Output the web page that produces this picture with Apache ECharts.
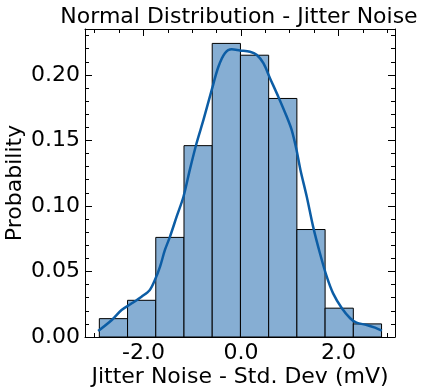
<!DOCTYPE html>
<html><head><meta charset="utf-8">
<script src="https://cdn.jsdelivr.net/npm/echarts@6/dist/echarts.min.js"></script>
<style>html,body{margin:0;padding:0;background:#fff}#c{width:426px;height:392px}</style>
</head><body><div id="c"></div>
<script>
// Histogram bin edges (mV) and probabilities
var binEdges = [-2.906, -2.327, -1.748, -1.169, -0.590, -0.011, 0.568, 1.147, 1.726, 2.305, 2.884];
var binProb = [0.014, 0.028, 0.076, 0.146, 0.224, 0.215, 0.182, 0.082, 0.022, 0.010];
// KDE curve points
var kdeX = [-2.93,-2.65,-2.45,-2.24,-2.04,-1.87,-1.76,-1.66,-1.56,-1.456,-1.32,-1.18,-1.05,-0.91,-0.77,-0.60,-0.465,-0.33,-0.19,-0.02,0.185,0.32,0.46,0.595,0.77,0.94,1.04,1.14,1.22,1.35,1.48,1.62,1.76,1.89,2.07,2.24,2.37,2.58,2.75,2.89];
var kdeY = [0.0046,0.013,0.0206,0.0257,0.0308,0.0359,0.044,0.0537,0.0664,0.0766,0.0918,0.107,0.1275,0.148,0.1656,0.1885,0.206,0.2165,0.2195,0.2186,0.2176,0.2153,0.2089,0.1975,0.183,0.168,0.158,0.1427,0.1275,0.107,0.0842,0.0639,0.046,0.0333,0.0219,0.0143,0.0109,0.0092,0.0071,0.0048];
// Tick values
var xMajor = [-2, 0, 2];
var xMinor = [-3, -2.5, -1.5, -1, -0.5, 0.5, 1, 1.5, 2.5, 3];
var yMajor = [0, 0.05, 0.10, 0.15, 0.20];
var yMinor = [0.01,0.02,0.03,0.04,0.06,0.07,0.08,0.09,0.11,0.12,0.13,0.14,0.16,0.17,0.18,0.19,0.21,0.22,0.23];

var XMIN = -3.2, XMAX = 3.16, YMIN = 0, YMAX = 0.235;
var FONT = 'DejaVu Sans';
var FS = 22;

function mkAxis(kind, pos, vals, len, labels, extra){
  var isX = kind==='x';
  var a = {type:'value', position:pos, min:isX?XMIN:YMIN, max:isX?XMAX:YMAX, splitLine:{show:false},
    axisLine: {show: !(extra&&extra.noLine), onZero:false, lineStyle:{color:'#000', width:1}},
    axisTick:{show:true, inside:true, length:len, customValues:vals, lineStyle:{color:'#000', width:1}},
    axisLabel: labels ? {show:true, customValues:vals, fontFamily:FONT, fontSize:FS, color:'#000', margin:5,
      formatter:function(v){return isX ? v.toFixed(1) : v.toFixed(2);}} : {show:false}};
  if (extra) for (var k in extra) if (k!=='noLine') a[k]=extra[k];
  return a;
}

var histData = binProb.map(function(p,i){ return [binEdges[i], binEdges[i+1], p]; });
var kdeData = kdeX.map(function(x,i){ return [x, kdeY[i]]; });

var chart = echarts.init(document.getElementById('c'), null, {renderer:'canvas'});
chart.setOption({
  animation:false,
  backgroundColor:'#fff',
  title:{text:'Normal Distribution - Jitter Noise', left:234, textAlign:'center', top:1,
    textStyle:{fontFamily:FONT, fontSize:FS, fontWeight:'normal', color:'#000'}},
  grid:{left:85, right:31, top:29, bottom:55, containLabel:false, outerBoundsMode:'none'},
  xAxis:[
    mkAxis('x','bottom', xMajor, 7, true, {name:'Jitter Noise - Std. Dev (mV)', nameLocation:'middle', nameGap:29,
      nameMoveOverlap:false, nameTextStyle:{fontFamily:FONT, fontSize:FS, color:'#000'}}),
    mkAxis('x','bottom', xMinor, 4, false, {noLine:true}),
    mkAxis('x','top', xMajor, 7, false),
    mkAxis('x','top', xMinor, 4, false, {noLine:true})
  ],
  yAxis:[
    mkAxis('y','left', yMajor, 7, true, {name:'Probability', nameLocation:'middle', nameGap:59,
      nameMoveOverlap:false, nameTextStyle:{fontFamily:FONT, fontSize:FS, color:'#000'}}),
    mkAxis('y','left', yMinor, 4, false, {noLine:true}),
    mkAxis('y','right', yMajor, 7, false),
    mkAxis('y','right', yMinor, 4, false, {noLine:true})
  ],
  series:[
    {type:'custom', xAxisIndex:0, yAxisIndex:0, data:histData, z:2,
      renderItem:function(params, api){
        var p0 = api.coord([api.value(0), 0]);
        var p1 = api.coord([api.value(1), api.value(2)]);
        return {type:'rect', shape:{x:p0[0], y:p1[1], width:p1[0]-p0[0], height:p0[1]-p1[1]},
          style:{fill:'#86aed3', stroke:'#000', lineWidth:1}};
      }},
    {type:'line', xAxisIndex:0, yAxisIndex:0, data:kdeData, smooth:0.3, symbol:'none', z:3,
      lineStyle:{color:'#0C5DA5', width:2.5}}
  ]
});
</script></body></html>
